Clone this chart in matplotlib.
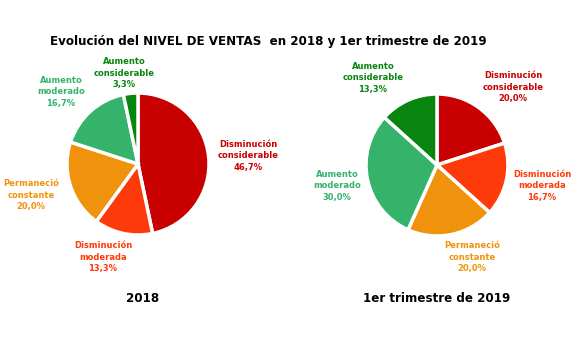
import matplotlib.pyplot as plt

categorias = ["Disminución\nconsiderable", "Disminución\nmoderada", "Permaneció\nconstante",
              "Aumento\nmoderado", "Aumento\nconsiderable"]
ventas_2018 = [46.7, 13.3, 20.0, 16.7, 3.3]
ventas_2019 = [20.0, 16.7, 20.0, 30.0, 13.3]
colores = ["#C80000", "#FF3A0A", "#F0920C", "#35B36A", "#07850F"]

W, H = 575, 337
fig = plt.figure(figsize=(W / 100, H / 100), dpi=100)
fig.patch.set_facecolor("white")


def pastel(cx, cy, r, valores, pos):
    # axes en pixeles: 4 unidades = 4*r pixeles en ambas direcciones
    ax = fig.add_axes([(cx - 2 * r) / W, 1 - (cy + 2 * r) / H, 4 * r / W, 4 * r / H])
    etiquetas = [f"{c}\n{v:.1f}%".replace(".", ",") for c, v in zip(categorias, valores)]
    wedges, textos = ax.pie(valores, colors=colores, startangle=90, counterclock=False,
                            labels=etiquetas,
                            wedgeprops=dict(edgecolor="white", linewidth=2.5))
    # posicion de cada etiqueta (pixeles respecto al centro)
    for t, col, (dx, dy) in zip(textos, colores, pos):
        t.set_position((dx / r, dy / r))
        t.set_ha("center")
        t.set_va("center")
        t.set_color(col)
        t.set_fontsize(6)
        t.set_fontweight("bold")
        t.set_linespacing(1.4)
    ax.set_xlim(-2, 2)
    ax.set_ylim(-2, 2)
    ax.axis("off")


pastel(138, 164, 71, ventas_2018,
       [(110, 8), (-35, -93), (-107, -31), (-77, 72), (-14, 91)])
pastel(437, 165, 71, ventas_2019,
       [(76, 78), (105, -21), (35, -92), (-100, -21), (-64, 87)])

fig.text(268 / W, 1 - 42 / H, "Evolución del NIVEL DE VENTAS  en 2018 y 1er trimestre de 2019",
         ha="center", va="center", fontsize=8.6, fontweight="bold")
fig.text(143 / W, 1 - 299 / H, "2018", ha="center", va="center", fontsize=8.6, fontweight="bold")
fig.text(437 / W, 1 - 299 / H, "1er trimestre de 2019", ha="center", va="center",
         fontsize=8.6, fontweight="bold")

fig.savefig("out.png", dpi=100)
